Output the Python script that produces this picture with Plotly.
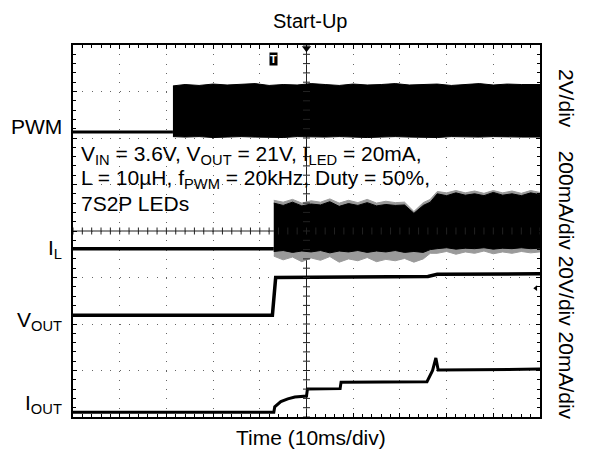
import plotly.graph_objects as go

# ---------------- data (time in ms, vertical in scope divisions) ----------------
# PWM channel (2V/div)
PWM_LOW_T = [-50.0, -28.6]
PWM_LOW_Y = [6.13, 6.13]
PWM_BAND_T = [-28.6, -26, -23, -20, -17, -14, -11, -8, -5, -2, 1, 4, 7, 10, 13,
              16, 19, 22, 25, 28, 31, 34, 37, 40, 43, 46, 50]
PWM_BAND_TOP = [7.12, 7.15, 7.13, 7.16, 7.14, 7.15, 7.17, 7.13, 7.15, 7.14, 7.17, 7.15,
                7.13, 7.16, 7.14, 7.15, 7.17, 7.14, 7.15, 7.16, 7.13, 7.15, 7.17, 7.14,
                7.16, 7.15, 7.15]
PWM_BAND_BOT = [6.03, 6.02, 6.03, 6.01, 6.02, 6.03, 6.02, 6.02, 6.01, 6.03, 6.02, 6.02,
                6.03, 6.02, 6.01, 6.02, 6.03, 6.02, 6.02, 6.01, 6.03, 6.02, 6.02, 6.03,
                6.02, 6.02, 6.02]

# Inductor current I_L (200mA/div)
IL_LOW_T = [-50.0, -7.0]
IL_LOW_Y = [3.62, 3.62]
IL_T = [-7, -5, -3, -1, 1, 3, 5, 7, 9, 11, 13, 15, 17, 19, 21, 23, 25, 26.5,
        28, 30, 32, 34, 36, 38, 40, 42, 44, 46, 48, 50]
IL_TOP = [4.60, 4.55, 4.62, 4.54, 4.58, 4.56, 4.63, 4.53, 4.59, 4.55, 4.61, 4.54,
          4.57, 4.55, 4.56, 4.38, 4.55, 4.62, 4.80, 4.76, 4.82, 4.77, 4.80, 4.76,
          4.83, 4.77, 4.80, 4.76, 4.82, 4.78]
IL_BOT = [3.56, 3.58, 3.54, 3.57, 3.55, 3.58, 3.53, 3.57, 3.55, 3.58, 3.54, 3.57,
          3.55, 3.58, 3.54, 3.56, 3.54, 3.60, 3.62, 3.64, 3.61, 3.63, 3.62, 3.64,
          3.61, 3.63, 3.62, 3.64, 3.62, 3.63]
IL_GTOP = [4.66, 4.62, 4.68, 4.60, 4.65, 4.62, 4.69, 4.60, 4.66, 4.61, 4.68, 4.60,
           4.64, 4.61, 4.62, 4.42, 4.61, 4.68, 4.85, 4.82, 4.87, 4.82, 4.86, 4.81,
           4.87, 4.82, 4.86, 4.81, 4.87, 4.83]
IL_GBOT = [3.46, 3.38, 3.44, 3.34, 3.42, 3.37, 3.45, 3.33, 3.40, 3.36, 3.43, 3.34,
           3.39, 3.36, 3.41, 3.33, 3.40, 3.52, 3.52, 3.56, 3.50, 3.55, 3.52, 3.57,
           3.51, 3.55, 3.52, 3.56, 3.53, 3.55]

# Output voltage V_OUT (20V/div)
VOUT_T = [-50.0, -7.3, -6.6, 26.0, 28.0, 50.0]
VOUT_Y = [2.19, 2.19, 3.00, 3.02, 3.07, 3.08]

# Output current I_OUT (20mA/div)
IOUT_T = [-50.0, -7.0, -6.8, -5.5, -4.0, -2.5, 0.0, 0.2, 7.2, 7.4, 25.8, 27.0, 27.7, 28.2, 50.0]
IOUT_Y = [0.10, 0.10, 0.22, 0.33, 0.39, 0.43, 0.45, 0.60, 0.61, 0.75, 0.76, 1.00, 1.27, 1.01, 1.03]

# Crosshair tick positions (scope graticule, 5 minor per division)
CROSS_X = [-50 + 2 * i for i in range(51)]
CROSS_Y = [0.2 * i for i in range(41)]

BLACK = "#000000"
GRAY = "#9a9a9a"
FONT = "Liberation Sans, Arial, sans-serif"

fig = go.Figure()

# PWM
fig.add_trace(go.Scatter(x=PWM_LOW_T, y=PWM_LOW_Y, mode="lines",
                         line=dict(color=BLACK, width=3), hoverinfo="skip"))
fig.add_trace(go.Scatter(x=PWM_BAND_T, y=PWM_BAND_BOT, mode="lines",
                         line=dict(color=BLACK, width=1), hoverinfo="skip"))
fig.add_trace(go.Scatter(x=PWM_BAND_T, y=PWM_BAND_TOP, mode="lines", fill="tonexty",
                         fillcolor=BLACK, line=dict(color=BLACK, width=1), hoverinfo="skip"))

# I_L gray spikes then black band
fig.add_trace(go.Scatter(x=IL_T, y=IL_GBOT, mode="lines",
                         line=dict(color=GRAY, width=1), hoverinfo="skip"))
fig.add_trace(go.Scatter(x=IL_T, y=IL_GTOP, mode="lines", fill="tonexty",
                         fillcolor=GRAY, line=dict(color=GRAY, width=1), hoverinfo="skip"))
fig.add_trace(go.Scatter(x=IL_T, y=IL_BOT, mode="lines",
                         line=dict(color=BLACK, width=1), hoverinfo="skip"))
fig.add_trace(go.Scatter(x=IL_T, y=IL_TOP, mode="lines", fill="tonexty",
                         fillcolor=BLACK, line=dict(color=BLACK, width=1), hoverinfo="skip"))
fig.add_trace(go.Scatter(x=IL_LOW_T, y=IL_LOW_Y, mode="lines",
                         line=dict(color=BLACK, width=3.5), hoverinfo="skip"))

# V_OUT
fig.add_trace(go.Scatter(x=VOUT_T, y=VOUT_Y, mode="lines",
                         line=dict(color=BLACK, width=3.5), hoverinfo="skip"))
# I_OUT
fig.add_trace(go.Scatter(x=IOUT_T, y=IOUT_Y, mode="lines",
                         line=dict(color=BLACK, width=3), hoverinfo="skip"))

# centre crosshair ticks
fig.add_trace(go.Scatter(x=CROSS_X, y=[4] * len(CROSS_X), mode="markers",
                         marker=dict(symbol="line-ns", size=5, line=dict(color="#222", width=1)),
                         hoverinfo="skip"))
fig.add_trace(go.Scatter(x=[0] * len(CROSS_Y), y=CROSS_Y, mode="markers",
                         marker=dict(symbol="line-ew", size=5, line=dict(color="#222", width=1)),
                         hoverinfo="skip"))
# trigger position marker and channel marker
fig.add_trace(go.Scatter(x=[0], y=[7.93], mode="markers", cliponaxis=False,
                         marker=dict(symbol="triangle-down", size=8, color=BLACK), hoverinfo="skip"))
fig.add_trace(go.Scatter(x=[49.1], y=[2.77], mode="markers", cliponaxis=False,
                         marker=dict(symbol="triangle-left", size=5, color=BLACK), hoverinfo="skip"))

fig.add_shape(type="line", xref="x", yref="paper", x0=0, x1=0, y0=0, y1=1,
              line=dict(color="#222", width=1), layer="below")
fig.add_shape(type="line", xref="paper", yref="y", x0=0, x1=1, y0=4, y1=4,
              line=dict(color="#222", width=1), layer="below")

axis_common = dict(showline=True, linecolor=BLACK, linewidth=2, mirror="ticks",
                   ticks="inside", ticklen=4, tickcolor=BLACK, showticklabels=False,
                   showgrid=True, gridcolor="#666666", gridwidth=1, griddash="1px,8.3px",
                   zeroline=False, fixedrange=True)

fig.update_xaxes(range=[-50, 50], tick0=-50, dtick=10,
                 minor=dict(dtick=2, ticks="inside", ticklen=3, tickcolor=BLACK, showgrid=False),
                 **axis_common)
fig.update_yaxes(range=[0, 8], tick0=0, dtick=1,
                 minor=dict(dtick=0.2, ticks="inside", ticklen=3, tickcolor=BLACK, showgrid=False),
                 **axis_common)

def ann(text, x, y, size=21, xanchor="left", angle=0, **kw):
    fig.add_annotation(text=text, x=x, y=y, xref="paper", yref="paper", showarrow=False,
                       xanchor=xanchor, yanchor="middle", textangle=angle,
                       font=dict(family=FONT, size=size, color=BLACK), **kw)

ann("Start-Up", 0.5075, 1.0645, size=20, xanchor="center")
ann("Time (10ms/div)", 0.51, -0.054, xanchor="center")

ann("V<sub>IN</sub> = 3.6V, V<sub>OUT</sub> = 21V, I<sub>LED</sub> = 20mA,", 0.013, 0.703)
ann("L = 10µH, f<sub>PWM</sub> = 20kHz, Duty = 50%,", 0.013, 0.640)
ann("7S2P LEDs", 0.013, 0.575)

ann("PWM", -0.019, 0.782, xanchor="right")
ann("I<sub>L</sub>", -0.019, 0.452, xanchor="right")
ann("V<sub>OUT</sub>", -0.019, 0.258, xanchor="right")
ann("I<sub>OUT</sub>", -0.019, 0.035, xanchor="right")

ann("2V/div\u00a0\u00a0\u00a0 200mA/div 20V/div 20mA/div", 1.058, 0.465,
    xanchor="center", angle=90)

fig.add_annotation(text="<b>T</b>", x=-7.0, y=7.70, xref="x", yref="y", showarrow=False,
                   font=dict(family=FONT, size=11, color="white"), bgcolor=BLACK, borderpad=0)

fig.update_layout(width=592, height=451, margin=dict(l=73, r=52, t=45, b=34, pad=0),
                  plot_bgcolor="white", paper_bgcolor="white", showlegend=False)

fig.write_html("out.html", config={"displayModeBar": False},
               post_script="document.body.style.margin='0';document.body.style.padding='0';")
